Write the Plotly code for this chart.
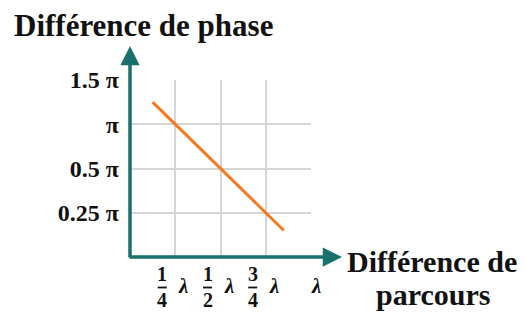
import plotly.graph_objects as go

# ---- data (grid units: 1 unit = one tick step) ----
x_tick_vals = [1, 2, 3, 4]
x_tick_num = ["1", "1", "3", ""]
x_tick_den = ["4", "2", "4", ""]
x_tick_sym = ["λ", "λ", "λ", "λ"]

y_tick_vals = [1, 2, 3, 4]
y_tick_text = ["0.25 π", "0.5 π", "π", "1.5 π"]

line_x = [0.5, 3.4]
line_y = [3.5, 0.6]

title_y = "Différence de phase"
title_x_lines = ["Différence de", "parcours"]

# ---- layout helpers ----
W, H = 525, 312
X0_PX, X4_PX = 130, 311
Y0_PX, Y4_PX = 257, 80


def px_x(p):
    return p / W


def px_y(p):
    return 1 - p / H


SERIF = "Liberation Serif, Times New Roman, serif"
TEAL = "#19706c"
ORANGE = "#f47a22"
GRID = "#d6d6d6"

fig = go.Figure()
fig.add_trace(go.Scatter(
    x=line_x, y=line_y, mode="lines",
    line=dict(color=ORANGE, width=3), hoverinfo="skip", showlegend=False,
))

fig.update_layout(
    width=W, height=H,
    margin=dict(l=0, r=0, t=0, b=0, pad=0, autoexpand=False),
    paper_bgcolor="white", plot_bgcolor="white",
    showlegend=False,
    xaxis=dict(
        domain=[px_x(X0_PX), px_x(X4_PX)], range=[0, 4],
        tickvals=x_tick_vals, showticklabels=False,
        showgrid=True, gridcolor=GRID, gridwidth=1.5,
        zeroline=False, showline=False, ticks="", automargin=False,
    ),
    yaxis=dict(
        domain=[px_y(Y0_PX), px_y(Y4_PX)], range=[0, 4],
        tickvals=y_tick_vals,
        ticktext=[f"<b>{t}</b>" for t in y_tick_text],
        tickfont=dict(family=SERIF, size=24, color="#111"),
        ticklabelstandoff=10,
        showgrid=True, gridcolor=GRID, gridwidth=1.5,
        zeroline=False, showline=False, ticks="", automargin=False,
    ),
)

annotations = []
shapes = []
# axis arrows
annotations.append(dict(
    x=px_x(342), y=px_y(Y0_PX), xref="paper", yref="paper",
    ax=-(342 - X0_PX) - 2, ay=0, axref="pixel", ayref="pixel",
    text="", showarrow=True, arrowhead=2, arrowsize=1.1, arrowwidth=3.5,
    arrowcolor=TEAL,
))
annotations.append(dict(
    x=px_x(X0_PX), y=px_y(46), xref="paper", yref="paper",
    ax=0, ay=(Y0_PX - 46) + 2, axref="pixel", ayref="pixel",
    text="", showarrow=True, arrowhead=2, arrowsize=1.1, arrowwidth=3.5,
    arrowcolor=TEAL,
))

# x tick labels: fractions + lambda
for xv, num, den, sym in zip(x_tick_vals, x_tick_num, x_tick_den, x_tick_sym):
    if num:
        annotations.append(dict(
            x=xv, y=px_y(287), xref="x", yref="paper",
            xshift=-13, text=f"<b>{num}</b><br><b>{den}</b>",
            showarrow=False, font=dict(family=SERIF, size=20, color="#111"),
            xanchor="center", yanchor="middle", borderpad=0,
        ))
        shapes.append(dict(
            type="line", xref="x", yref="paper", xsizemode="pixel",
            xanchor=xv, x0=-17.5, x1=-8.5,
            y0=px_y(287.5), y1=px_y(287.5),
            line=dict(color="#111", width=1.8),
        ))
        annotations.append(dict(
            x=xv, y=px_y(286), xref="x", yref="paper",
            xshift=8, text=f"<b><i>{sym}</i></b>",
            showarrow=False, font=dict(family=SERIF, size=21, color="#111"),
            xanchor="center", yanchor="middle", borderpad=0,
        ))
    else:
        annotations.append(dict(
            x=xv, y=px_y(286), xref="x", yref="paper",
            xshift=5, text=f"<b><i>{sym}</i></b>",
            showarrow=False, font=dict(family=SERIF, size=21, color="#111"),
            xanchor="center", yanchor="middle", borderpad=0,
        ))

# axis titles
annotations.append(dict(
    x=px_x(12), y=px_y(25), xref="paper", yref="paper",
    text=f"<b>{title_y}</b>", showarrow=False,
    font=dict(family=SERIF, size=31, color="#111"),
    xanchor="left", yanchor="middle",
))
annotations.append(dict(
    x=px_x(432), y=px_y(261), xref="paper", yref="paper",
    text=f"<b>{title_x_lines[0]}</b>", showarrow=False,
    font=dict(family=SERIF, size=30, color="#111"),
    xanchor="center", yanchor="middle", borderpad=0,
))
annotations.append(dict(
    x=px_x(433), y=px_y(294), xref="paper", yref="paper",
    text=f"<b>{title_x_lines[1]}</b>", showarrow=False,
    font=dict(family=SERIF, size=30, color="#111"),
    xanchor="center", yanchor="middle", borderpad=0,
))

fig.update_layout(annotations=annotations, shapes=shapes)
fig.write_html(
    "out.html",
    config={"displayModeBar": False},
    post_script="document.body.style.margin='0px';document.body.style.overflow='hidden';",
)
